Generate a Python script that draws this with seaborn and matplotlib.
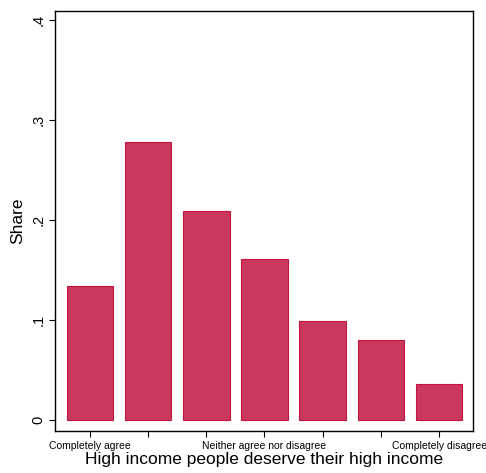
import matplotlib
matplotlib.use("Agg")
import matplotlib.pyplot as plt
import seaborn as sns
import pandas as pd

# values
categories = [1, 2, 3, 4, 5, 6, 7]
shares = [0.134, 0.278, 0.209, 0.161, 0.099, 0.080, 0.036]
tick_labels = ["Completely agree", "", "", "Neither agree nor disagree",
               "", "", "Completely disagree"]
y_ticks = [0, 0.1, 0.2, 0.3, 0.4]
y_tick_labels = ["0", ".1", ".2", ".3", ".4"]

sns.set_style("white")
plt.rcParams['font.family'] = ['Liberation Sans', 'DejaVu Sans']
plt.rcParams.update({'text.color': 'black', 'axes.labelcolor': 'black',
                     'xtick.color': 'black', 'ytick.color': 'black'})

df = pd.DataFrame({'answer': categories, 'share': shares})

fig = plt.figure(figsize=(4.86, 4.73), dpi=100)
ax = fig.add_axes([0.113, 0.089, 0.86, 0.888])

sns.barplot(data=df, x='answer', y='share', ax=ax, width=0.8,
            color='#cc385c', edgecolor='#c0163f', linewidth=0.8,
            saturation=1)

ax.set_xlim(-0.6, 6.58)
ax.set_ylim(-0.011, 0.409)
ax.set_yticks(y_ticks)
ax.set_yticklabels(y_tick_labels, rotation=90, va='center', fontsize=10.5)
ax.set_xticks(range(len(categories)))
ax.set_xticklabels(tick_labels, fontsize=7.5)
ax.tick_params(axis='both', direction='out', length=4, width=0.8,
               color='black', labelcolor='black', bottom=True, left=True,
               pad=3)
ax.set_ylabel('Share', fontsize=12.5, labelpad=4)
ax.set_xlabel('High income people deserve their high income',
              fontsize=12.5, labelpad=1)
for s in ax.spines.values():
    s.set_color('black')
    s.set_linewidth(1.0)

fig.savefig("out.png", dpi=100)
